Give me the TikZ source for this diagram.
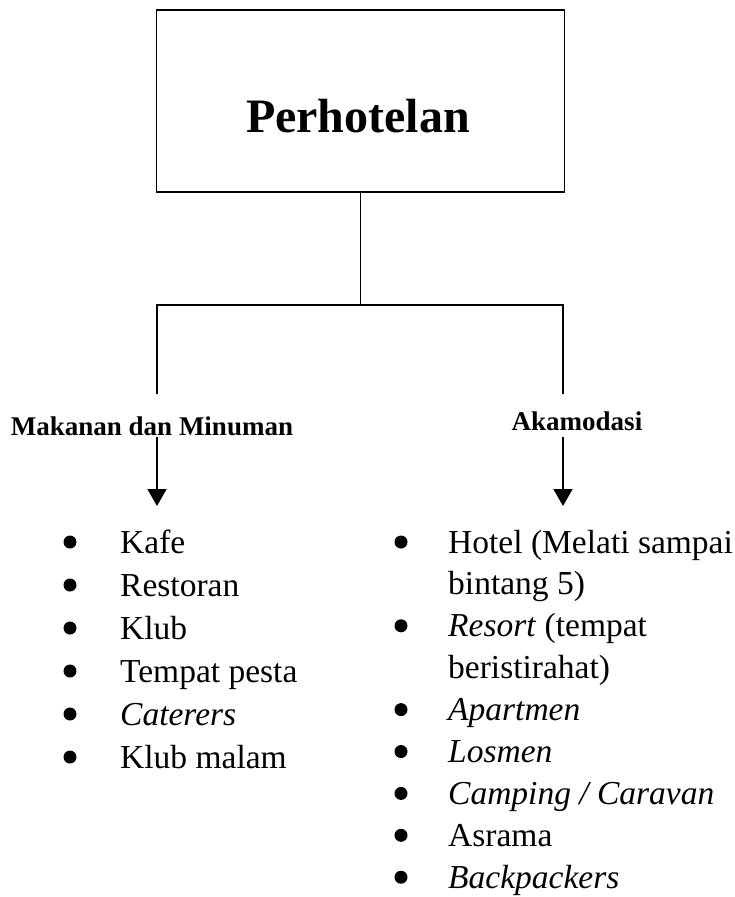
\documentclass[tikz,border=0pt]{standalone}
\usepackage{fontspec}
\setmainfont{Liberation Serif}
\usetikzlibrary{arrows.meta}
\begin{document}
\begin{tikzpicture}[x=1pt,y=-1pt,
  conn/.style={line width=1.6pt},
  item/.style={anchor=base west, inner sep=0pt, font=\fontsize{33.5}{40}\selectfont},
  lbl/.style={anchor=base, inner sep=0pt, font=\bfseries\fontsize{27}{32}\selectfont},
  arr/.style={line width=1.6pt, -{Triangle[width=19pt,length=17pt]}}]
\useasboundingbox (0,0) rectangle (735,897);
% top box
\node[draw, line width=1.8pt, minimum width=408pt, minimum height=182pt, inner sep=0pt] (top) at (360.5,101) {};
\node[anchor=base, inner sep=0pt, font=\bfseries\fontsize{48}{58}\selectfont] (title) at (358,132) {Perhotelan};
% tree connectors
\coordinate (el) at (157,394);
\coordinate (er) at (563,394);
\draw[conn] (top.south) -- ++(0,112) coordinate (j);
\draw[conn] (el) |- (j) -| (er);
% labels
\node[lbl] (mm) at (152,435) {Makanan dan Minuman};
\node[lbl] (ak) at (577,430) {Akamodasi};
% arrows
\coordinate (als) at (157,437);
\coordinate (ale) at (157,506);
\coordinate (ars) at (563,437);
\coordinate (are) at (563,506);
\draw[arr] (als) -- (ale);
\draw[arr] (ars) -- (are);
% left list
\foreach \t [count=\i from 0] in {Kafe,Restoran,Klub,Tempat pesta,\textit{Caterers},Klub malam}{
  \pgfmathsetmacro{\yy}{553+43*\i}
  \fill (70,\yy-11) circle (6.5pt);
  \node[item] (l\i) at (120,\yy) {\t};
}
% right list
\foreach \t/\b [count=\i from 0] in {Hotel (Melati sampai/1,bintang 5)/0,\textit{Resort} (tempat/1,beristirahat)/0,\textit{Apartmen}/1,\textit{Losmen}/1,\textit{Camping / Caravan}/1,Asrama/1,\textit{Backpackers}/1}{
  \pgfmathsetmacro{\yy}{553+41.9*\i}
  \ifnum\b=1 \fill (401,\yy-11) circle (6.5pt);\fi
  \node[item] (r\i) at (448,\yy) {\t};
}
\end{tikzpicture}
\end{document}
